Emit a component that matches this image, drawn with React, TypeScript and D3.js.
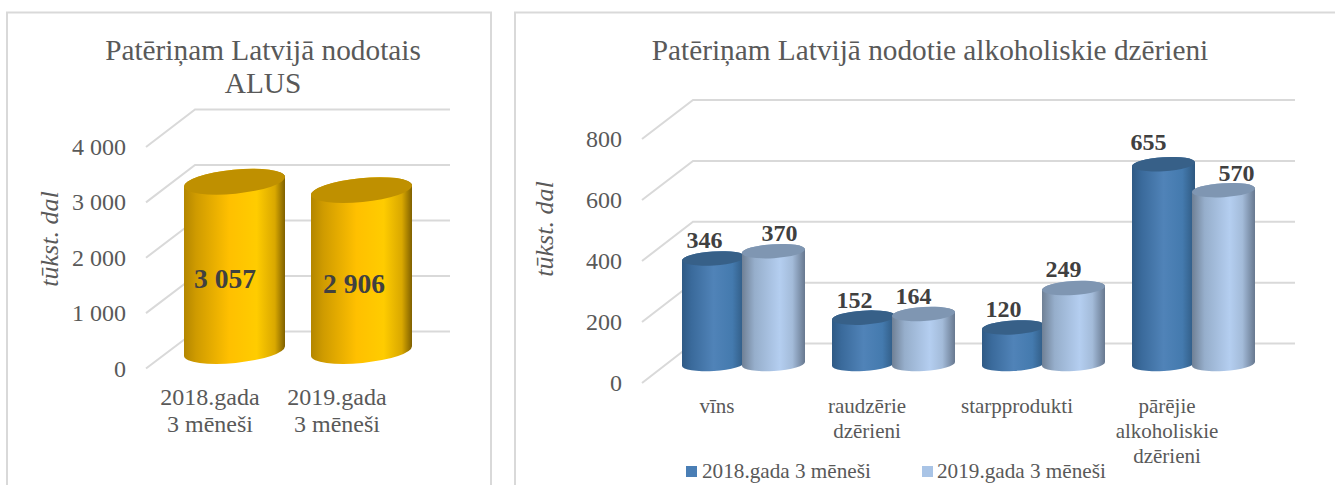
import React from "react";
import * as d3 from "d3";

const leftCategories = [["2018.gada", "3 mēneši"], ["2019.gada", "3 mēneši"]];
const beerValues = [3057, 2906];
const beerLabels = ["3 057", "2 906"];
const leftTicks = [0, 1000, 2000, 3000, 4000];
const leftTickLabels = ["0", "1 000", "2 000", "3 000", "4 000"];

const rightCategories = [["vīns"], ["raudzērie", "dzērieni"], ["starpprodukti"], ["pārējie", "alkoholiskie", "dzērieni"]];
const series2018 = [346, 152, 120, 655];
const series2019 = [370, 164, 249, 570];
const rightTicks = [0, 200, 400, 600, 800];

const FONT = "'Liberation Serif', 'Times New Roman', serif";
const TEXT = "#595959";
const DARK = "#404040";
const GRID = "#d9d9d9";

type Grad = { id: string; stops: [number, string][]; };
const grads: Grad[] = [
  { id: "gold", stops: [[0, "#b38600"], [0.12, "#cf9b00"], [0.45, "#ffc000"], [0.72, "#ffcc00"], [0.9, "#d9a800"], [1, "#7f6000"]] },
  { id: "blue", stops: [[0, "#2f5a85"], [0.15, "#3a6a9b"], [0.5, "#5083b8"], [0.8, "#447aae"], [1, "#2e5880"]] },
  { id: "light", stops: [[0, "#6f8095"], [0.2, "#96aecb"], [0.6, "#b4cef0"], [0.8, "#a3bbd9"], [1, "#67788f"]] },
];

function cylinderPaths(x0: number, w: number, baseLeft: number, h: number, tilt: number, ry: number) {
  const x1 = x0 + w;
  const yL = baseLeft;
  const yR = baseLeft - tilt;
  const rot = (Math.atan2(-tilt, w) * 180) / Math.PI;
  const rx = Math.hypot(w, tilt) / 2;
  const body = `M${x0},${yL - h}L${x0},${yL}A${rx},${ry} ${rot} 0 0 ${x1},${yR}L${x1},${yR - h}A${rx},${ry} ${rot} 0 0 ${x0},${yL - h}Z`;
  const top = `M${x0},${yL - h}A${rx},${ry} ${rot} 1 1 ${x1},${yR - h}A${rx},${ry} ${rot} 1 1 ${x0},${yL - h}Z`;
  return { body, top };
}

function Cylinder({ x, w, base, h, tilt, ry, grad, topFill }: { x: number; w: number; base: number; h: number; tilt: number; ry: number; grad: string; topFill: string }) {
  const p = cylinderPaths(x, w, base, h, tilt, ry);
  return (
    <g>
      <path d={p.body} fill={`url(#${grad})`} />
      <path d={p.top} fill={topFill} />
    </g>
  );
}

function Grid({ ticks, yFront, yBack, x0, x1, x2 }: { ticks: number[]; yFront: d3.ScaleLinear<number, number>; yBack: d3.ScaleLinear<number, number>; x0: number; x1: number; x2: number }) {
  return (
    <g fill="none" stroke={GRID} strokeWidth={2}>
      {ticks.map((t) => (
        <polyline key={t} points={`${x0},${yFront(t)} ${x1},${yBack(t)} ${x2},${yBack(t)}`} />
      ))}
    </g>
  );
}

export default function App() {
  // left chart
  const lFront = d3.scaleLinear().domain([0, 4000]).range([368.5, 147]);
  const lBack = d3.scaleLinear().domain([0, 4000]).range([331.5, 109.5]);
  const lH = d3.scaleLinear().domain([0, 4000]).range([0, 221.5]);
  const lX = d3.scaleBand<number>().domain([0, 1]).range([184, 438]).paddingInner(0);
  const lW = 101;
  const lLabelY = [288, 293];
  const lLabelX = [225, 354];
  const lCatX = [210, 337];

  // right chart
  const rFront = d3.scaleLinear().domain([0, 800]).range([383, 139]);
  const rBack = d3.scaleLinear().domain([0, 800]).range([343.5, 100]);
  const rH = d3.scaleLinear().domain([0, 800]).range([0, 244]);
  const rX = d3.scaleBand<number>().domain([0, 1, 2, 3]).range([682, 1282]).paddingInner(0);
  const rW = 63;
  const rOff = 60;
  const rBase = 366;
  const rTilt = 4;
  const nudge2018 = [-9, -9, -10, -15];
  const nudge2019 = [6, -10, -10, 13];
  const lift2018 = [12, 12, 12, 16];
  const lift2019 = [12, 12, 13, 11];
  const rCatX = [717, 867, 1017, 1167];

  return (
    <svg width={1335} height={485} style={{ position: "fixed", left: 0, top: 0, background: "#fff" }} fontFamily={FONT}>
      <defs>
        {grads.map((g) => (
          <linearGradient key={g.id} id={g.id} x1="0" x2="1" y1="0" y2="0">
            {g.stops.map(([o, c]) => (
              <stop key={o} offset={o} stopColor={c} />
            ))}
          </linearGradient>
        ))}
      </defs>

      {/* panels */}
      <g fill="none" stroke={GRID} strokeWidth={2}>
        <path d="M7,485V12.5H491V485" />
        <path d="M515,485V12.5H1335" />
      </g>

      {/* LEFT */}
      <g textAnchor="middle" fill={TEXT} fontSize={29.3}>
        <text x={263} y={60}>Patēriņam Latvijā nodotais</text>
        <text x={263} y={93}>ALUS</text>
      </g>
      <Grid ticks={leftTicks} yFront={lFront} yBack={lBack} x0={146} x1={195} x2={450} />
      <g fill={TEXT} fontSize={24} textAnchor="end">
        {leftTicks.map((t, i) => (
          <text key={t} x={126} y={lFront(t) + 8}>{leftTickLabels[i]}</text>
        ))}
      </g>
      <text transform="translate(58,239) rotate(-90)" textAnchor="middle" fontStyle="italic" fontSize={26} fill={TEXT}>tūkst. dal</text>
      {beerValues.map((v, i) => (
        <Cylinder key={i} x={lX(i)!} w={lW} base={356} h={lH(v)} tilt={10} ry={12} grad="gold" topFill="#bf9000" />
      ))}
      {beerValues.map((v, i) => (
        <text key={v} x={lLabelX[i]} y={lLabelY[i]} textAnchor="middle" fontWeight="bold" fontSize={27.5} fill={DARK}>{beerLabels[i]}</text>
      ))}
      <g textAnchor="middle" fill={TEXT} fontSize={24}>
        {leftCategories.map((lines, i) =>
          lines.map((s, j) => (
            <text key={j + "-" + i} x={lCatX[i]} y={405 + j * 26.5}>{s}</text>
          ))
        )}
      </g>

      {/* RIGHT */}
      <text x={930} y={60} textAnchor="middle" fill={TEXT} fontSize={29.3}>Patēriņam Latvijā nodotie alkoholiskie dzērieni</text>
      <Grid ticks={rightTicks} yFront={rFront} yBack={rBack} x0={642} x1={693} x2={1295} />
      <g fill={TEXT} fontSize={24} textAnchor="end">
        {rightTicks.map((t) => (
          <text key={t} x={622} y={rFront(t) + 8}>{t}</text>
        ))}
      </g>
      <text transform="translate(553,229) rotate(-90)" textAnchor="middle" fontStyle="italic" fontSize={26} fill={TEXT}>tūkst. dal</text>
      {rightCategories.map((_, i) => (
        <g key={i}>
          <Cylinder x={rX(i)!} w={rW} base={rBase} h={rH(series2018[i])} tilt={rTilt} ry={7} grad="blue" topFill="#376088" />
          <Cylinder x={rX(i)! + rOff} w={rW} base={rBase} h={rH(series2019[i])} tilt={rTilt} ry={7} grad="light" topFill="#7f96b2" />
        </g>
      ))}
      <g textAnchor="middle" fontWeight="bold" fontSize={24} fill={DARK}>
        {rightCategories.map((_, i) => (
          <g key={i}>
            <text x={rX(i)! + rW / 2 + nudge2018[i]} y={rBase - rH(series2018[i]) - lift2018[i]}>{series2018[i]}</text>
            <text x={rX(i)! + rOff + rW / 2 + nudge2019[i]} y={rBase - rH(series2019[i]) - lift2019[i]}>{series2019[i]}</text>
          </g>
        ))}
      </g>
      <g textAnchor="middle" fill={TEXT} fontSize={21}>
        {rightCategories.map((lines, i) =>
          lines.map((s, j) => (
            <text key={j + "-" + i} x={rCatX[i]} y={413 + j * 25}>{s}</text>
          ))
        )}
      </g>
      <g fontSize={21.2} fill={TEXT}>
        <rect x={686} y={466} width={11} height={11} fill="#4a7eb5" />
        <text x={702} y={478}>2018.gada 3 mēneši</text>
        <rect x={922} y={466} width={11} height={11} fill="#a9c4e6" />
        <text x={937} y={478}>2019.gada 3 mēneši</text>
      </g>
    </svg>
  );
}
